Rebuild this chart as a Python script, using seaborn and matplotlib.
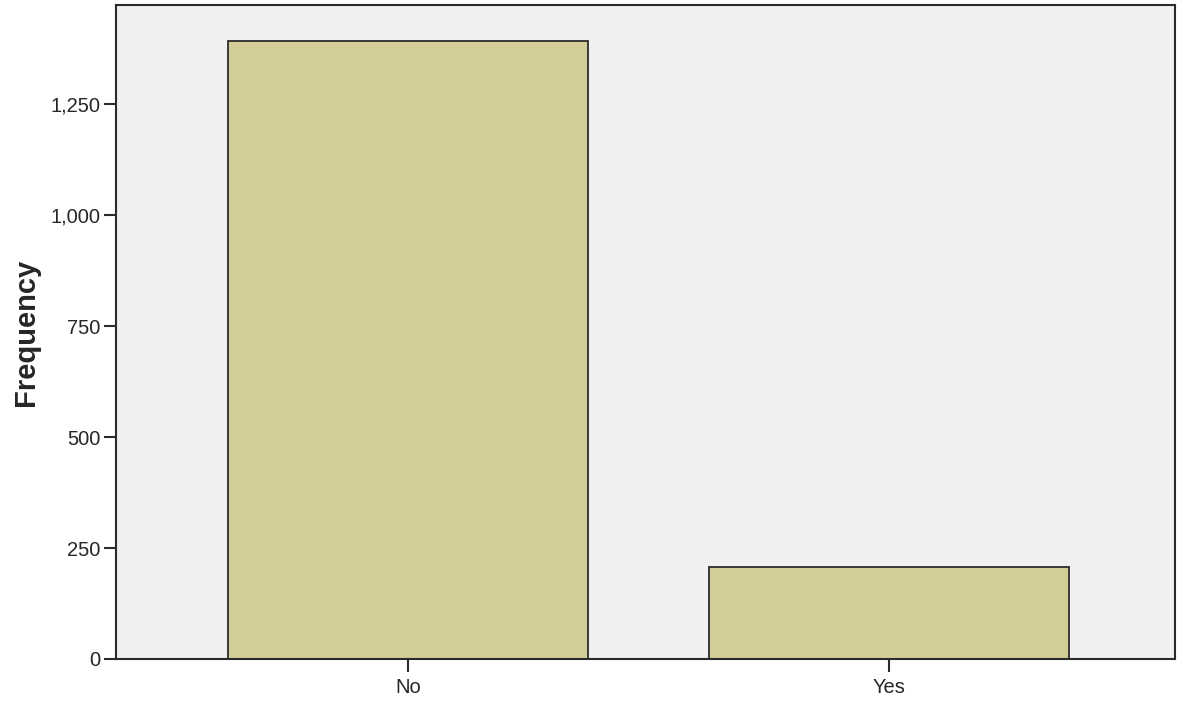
import matplotlib
matplotlib.use("Agg")
import matplotlib.pyplot as plt
import seaborn as sns
import pandas as pd
from matplotlib.ticker import FuncFormatter

categories = ["No", "Yes"]
frequencies = [1392, 207]
yticks = [0, 250, 500, 750, 1000, 1250]

sns.set_style("white")
plt.rcParams['font.family'] = ['Liberation Sans', 'DejaVu Sans']

df = pd.DataFrame({"cat": categories, "freq": frequencies})

fig = plt.figure(figsize=(11.86, 7.02), dpi=100)
ax = fig.add_axes([116/1186, 43/702, 1059/1186, 654/702])
ax.set_facecolor("#F0F0F0")

sns.barplot(data=df, x="cat", y="freq", ax=ax, color="#D3CE97", saturation=1,
            width=0.75, edgecolor="#2b2b2b", linewidth=1.3)

ax.set_xlim(-0.607, 1.595)
ax.set_ylim(0, 1473)
ax.set_yticks(yticks)
ax.yaxis.set_major_formatter(FuncFormatter(lambda v, p: f"{int(v):,}"))
ax.set_xlabel("")
ax.set_ylabel("Frequency", fontsize=21, fontweight="bold", labelpad=8)
ax.tick_params(axis="both", which="major", direction="out", length=9, width=1.5,
               color="#2b2b2b", labelsize=14.5, bottom=True, left=True)
ax.tick_params(axis="y", pad=2)
ax.tick_params(axis="x", pad=5)
for s in ax.spines.values():
    s.set_color("#2b2b2b")
    s.set_linewidth(1.5)

fig.savefig("out.png", dpi=100)
